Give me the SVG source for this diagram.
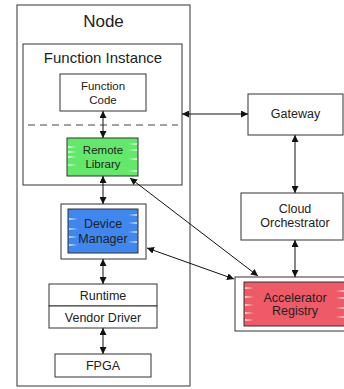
<svg xmlns="http://www.w3.org/2000/svg" width="344" height="389" viewBox="0 0 344 389">
<defs>
<marker id="ah" viewBox="0 0 10 10" refX="10" refY="5" markerWidth="7" markerHeight="7" markerUnits="userSpaceOnUse" orient="auto-start-reverse">
<path d="M0,0 L10,5 L0,10 z" fill="#111"/>
</marker>
<g id="streakL"><path d="M0,-0.8 L9,0 L0,0.8 z" fill="#fff" opacity="0.9"/></g>
<g id="streakR"><path d="M0,-0.8 L-9,0 L0,0.8 z" fill="#fff" opacity="0.9"/></g>
</defs>
<style>
text{font-family:"Liberation Sans",Arial,sans-serif;fill:#222;text-anchor:middle}
.box{fill:#fff;stroke:#333;stroke-width:1}
.t12{font-size:12.5px}
.t11{font-size:11.5px}
.conn{stroke:#111;stroke-width:1;fill:none;marker-start:url(#ah);marker-end:url(#ah)}
</style>
<g id="node">
<rect x="17" y="5" width="173" height="381" fill="#fff" stroke="#555" stroke-width="1.2"/>
<text x="103.5" y="27" font-size="17px">Node</text>
</g>
<g id="function-instance">
<rect class="box" x="23" y="44" width="159" height="141"/>
<text x="103" y="63" font-size="15px">Function Instance</text>
<line x1="28" y1="125" x2="178" y2="125" stroke="#444" stroke-width="1" stroke-dasharray="7,5"/>
</g>
<g id="function-code">
<rect class="box" x="60" y="74" width="86" height="37"/>
<text class="t11" x="103" y="90">Function</text>
<text class="t11" x="103" y="104">Code</text>
</g>
<g id="remote-library">
<rect x="67" y="138" width="71" height="38" fill="#64e86a" stroke="#333" stroke-width="1"/>
<use href="#streakL" x="68" y="147"/><use href="#streakL" x="68" y="152"/><use href="#streakL" x="68" y="157"/><use href="#streakL" x="68" y="165"/>
<use href="#streakR" x="137" y="144"/><use href="#streakR" x="137" y="150"/><use href="#streakR" x="137" y="159"/><use href="#streakR" x="137" y="171"/>
<text class="t11" x="103" y="154">Remote</text>
<text class="t11" x="103" y="168">Library</text>
</g>
<g id="device-manager">
<rect class="box" x="61" y="204" width="85" height="55"/>
<rect x="68" y="209" width="70" height="44" fill="#3f86ef" stroke="#333" stroke-width="1"/>
<use href="#streakL" x="69" y="219"/><use href="#streakL" x="69" y="229"/><use href="#streakL" x="69" y="237"/><use href="#streakL" x="69" y="245"/>
<use href="#streakR" x="137" y="215"/><use href="#streakR" x="137" y="223"/><use href="#streakR" x="137" y="232"/><use href="#streakR" x="137" y="242"/>
<text class="t12" x="103" y="228">Device</text>
<text class="t12" x="103" y="243">Manager</text>
</g>
<g id="runtime">
<rect class="box" x="49" y="284" width="108" height="22"/>
<text class="t12" x="103" y="300">Runtime</text>
</g>
<g id="vendor-driver">
<rect class="box" x="49" y="306" width="108" height="22"/>
<text class="t12" x="103" y="322">Vendor Driver</text>
</g>
<g id="fpga">
<rect class="box" x="55" y="354" width="96" height="23"/>
<text class="t12" x="103" y="370">FPGA</text>
</g>
<g id="gateway">
<rect class="box" x="248" y="94" width="95" height="41"/>
<text class="t12" x="295.5" y="118">Gateway</text>
</g>
<g id="cloud-orchestrator">
<rect class="box" x="241" y="193" width="102" height="47"/>
<text class="t12" x="295" y="213">Cloud</text>
<text class="t12" x="295" y="227">Orchestrator</text>
</g>
<g id="accelerator-registry">
<rect class="box" x="235" y="277" width="120" height="54"/>
<rect x="244" y="282" width="102" height="44" fill="#ee5a68" stroke="#333" stroke-width="1"/>
<use href="#streakL" x="245" y="288"/><use href="#streakL" x="245" y="297"/><use href="#streakL" x="245" y="305"/><use href="#streakL" x="245" y="313"/><use href="#streakL" x="245" y="320"/>
<use href="#streakR" x="345" y="291"/><use href="#streakR" x="345" y="298"/><use href="#streakR" x="345" y="308"/><use href="#streakR" x="345" y="317"/>
<text class="t12" x="295" y="302">Accelerator</text>
<text class="t12" x="295" y="315">Registry</text>
</g>
<g id="connectors">
<line class="conn" x1="103" y1="111" x2="103" y2="138"/>
<line class="conn" x1="103" y1="176" x2="103" y2="204"/>
<line class="conn" x1="103" y1="259" x2="103" y2="284"/>
<line class="conn" x1="103" y1="328" x2="103" y2="354"/>
<line class="conn" x1="182" y1="114" x2="248" y2="114"/>
<line class="conn" x1="295" y1="135" x2="295" y2="193"/>
<line class="conn" x1="295" y1="240" x2="295" y2="277"/>
<line class="conn" x1="130" y1="178" x2="258" y2="276"/>
<line class="conn" x1="147" y1="248" x2="234" y2="279"/>
</g>
</svg>
